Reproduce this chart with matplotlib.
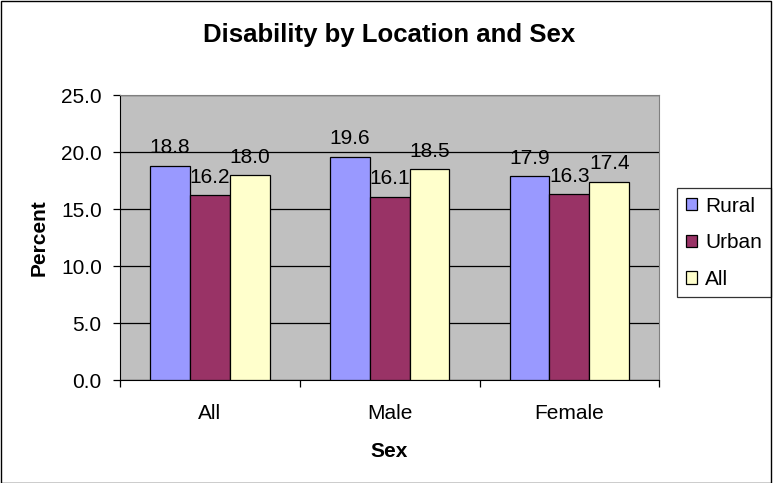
import numpy as np
import matplotlib.pyplot as plt
from matplotlib.patches import Rectangle

categories = ['All', 'Male', 'Female']
rural = [18.8, 19.6, 17.9]
urban = [16.2, 16.1, 16.3]
all_loc = [18.0, 18.5, 17.4]
series_names = ['Rural', 'Urban', 'All']
colors = ['#9999FF', '#993366', '#FFFFCC']

plt.rcParams['font.family'] = ['Liberation Sans', 'DejaVu Sans']

fig = plt.figure(figsize=(7.73, 4.83), dpi=100)
ax = fig.add_axes([0.155, 0.213, 0.698, 0.590])
ax.set_facecolor('#C0C0C0')

x = np.arange(len(categories))
width = 0.222
for i, (vals, name, col) in enumerate(zip([rural, urban, all_loc], series_names, colors)):
    bars = ax.bar(x + (i - 1) * width, vals, width, color=col, edgecolor='black',
                  linewidth=0.9, label=name, zorder=3)
    for b, v in zip(bars, vals):
        ax.annotate(f'{v:.1f}', (b.get_x() + b.get_width() / 2, v),
                    xytext=(0, 6), textcoords='offset points',
                    ha='center', va='bottom', fontsize=15, zorder=4)

ax.set_xlim(-0.5, len(categories) - 0.5)
ax.set_ylim(0, 25)
ax.set_yticks(np.arange(0, 25.1, 5))
ax.set_yticklabels([f'{t:.1f}' for t in np.arange(0, 25.1, 5)], fontsize=15)
ax.yaxis.grid(True, color='black', linewidth=0.9, zorder=1)
ax.set_xticks(x)
ax.set_xticklabels(categories, fontsize=15)
ax.tick_params(axis='x', length=0, pad=17)
ax.tick_params(axis='y', length=5, direction='out', width=0.9, pad=8)
# category separator ticks
ax.set_xticks(np.arange(-0.5, len(categories)), minor=True)
ax.tick_params(axis='x', which='minor', length=5, width=0.9)
for s in ['top', 'right']:
    ax.spines[s].set_color('#808080')
for s in ['left', 'bottom']:
    ax.spines[s].set_color('black')

fig.text(0.504, 0.927, 'Disability by Location and Sex', fontsize=18.5,
         fontweight='bold', ha='center', va='center')
ax.set_xlabel('Sex', fontsize=15, fontweight='bold', labelpad=14)
ax.set_ylabel('Percent', fontsize=15, fontweight='bold', labelpad=9)

leg = ax.legend(loc='center left', bbox_to_anchor=(1.033, 0.482), borderaxespad=0,
                fontsize=15, frameon=True, fancybox=False,
                handlelength=0.55, handleheight=0.55, handletextpad=0.4,
                borderpad=0.4, labelspacing=0.85)
leg.get_frame().set_edgecolor('black')
leg.get_frame().set_linewidth(0.9)

fig.patches.append(Rectangle((0.001, 0.001), 0.997, 0.997, transform=fig.transFigure,
                             fill=False, edgecolor='black', linewidth=1))

fig.savefig('out.png', dpi=100)
